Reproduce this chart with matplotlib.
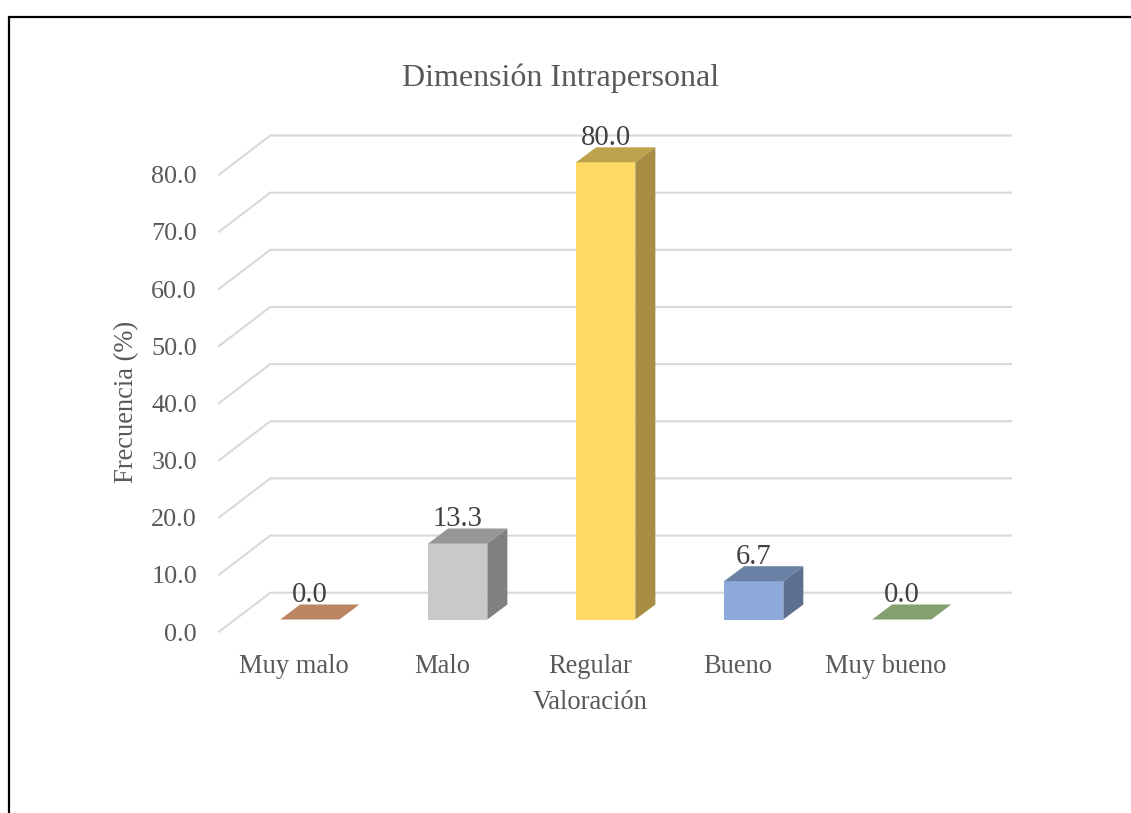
import matplotlib
matplotlib.use("Agg")
import matplotlib.pyplot as plt
from matplotlib.lines import Line2D
from matplotlib.patches import Polygon
from matplotlib.transforms import ScaledTranslation

categories = ["Muy malo", "Malo", "Regular", "Bueno", "Muy bueno"]
values = [0.0, 13.3, 80.0, 6.7, 0.0]
y_ticks = [0, 10, 20, 30, 40, 50, 60, 70, 80]
front_colors = ["#ED9E6B", "#C9C9C9", "#FFD966", "#8EAADB", "#A9D18E"]
top_colors = ["#BC8562", "#979797", "#BFA34C", "#6A80A4", "#83A06E"]
side_colors = ["#A0704F", "#808080", "#A68D42", "#5C6F8E", "#6F8A5C"]

W, H = 1131, 813
plt.rcParams["font.family"] = ["Liberation Serif", "DejaVu Serif"]
fig = plt.figure(figsize=(W / 100, H / 100), dpi=100)

px0, px1 = 235.8, 975.7   # axes left / right in pixels
py0, py80 = 619.5, 162.3  # value 0 / value 80 in pixels
ax = fig.add_axes([px0 / W, 1 - py0 / H, (px1 - px0) / W, (py0 - py80) / H])
ax.set_xlim(-0.5, 4.5)
ax.set_ylim(0, 80)
ax.patch.set_visible(False)
for s in ax.spines.values():
    s.set_visible(False)

ux = (px1 - px0) / 5          # pixels per category
uy = (py0 - py80) / 80        # pixels per value unit
def X(p): return p / ux
def Y(p): return p / uy

# walls
grid_c = "#D9D9D9"
for v in y_ticks:
    xl = -0.5 + X(34.5)
    ax.plot([-0.5 - X(16.7), xl, 4.5 + X(35.3)],
            [v - Y(12.2), v + Y(26.8), v + Y(26.8)],
            color=grid_c, lw=1.5, clip_on=False, zorder=1, solid_joinstyle="miter")

# bars
bw = 59.2 / ux
dx, dy = X(20), Y(15)
xs = list(range(len(categories)))
ax.bar(xs, values, width=bw, color=front_colors, zorder=3)
for x, v, tc, sc in zip(xs, values, top_colors, side_colors):
    l, r = x - bw / 2, x + bw / 2
    ax.add_patch(Polygon([(l, v), (r, v), (r + dx, v + dy), (l + dx, v + dy)],
                         closed=True, fc=tc, ec="none", zorder=3, clip_on=False))
    if v > 0:
        ax.add_patch(Polygon([(r, 0), (r + dx, dy), (r + dx, v + dy), (r, v)],
                             closed=True, fc=sc, ec="none", zorder=3, clip_on=False))
    ax.annotate(f"{v:.1f}", (x, v), xytext=(0, 17.4), textcoords="offset pixels",
                ha="center", va="baseline", fontsize=20.6, color="#404040",
                zorder=5, annotation_clip=False)

# ticks
ax.set_yticks(y_ticks)
ax.set_yticklabels([f"{v:.1f}" for v in y_ticks])
ax.set_xticks(xs)
ax.set_xticklabels(categories)
ax.tick_params(length=0)
ax.tick_params(axis="y", pad=0, labelsize=18.8, labelcolor="#595959")
ax.tick_params(axis="x", pad=0, labelsize=19.1, labelcolor="#595959")
y_off = ScaledTranslation(-38.8 / 100, -21 / 100, fig.dpi_scale_trans)
for lab in ax.get_yticklabels():
    lab.set_transform(lab.get_transform() + y_off)
    lab.set_va("baseline")
x_off = ScaledTranslation(-16 / 100, -53 / 100, fig.dpi_scale_trans)
for lab in ax.get_xticklabels():
    lab.set_transform(lab.get_transform() + x_off)
    lab.set_va("baseline")

fig.text(561 / W, 1 - 78 / H, "Dimensión Intrapersonal", ha="center", va="center",
         fontsize=23, color="#595959")
ax.set_xlabel("Valoración", fontsize=19.1, color="#595959")
ax.xaxis.set_label_coords(590 / W, 1 - 702 / H, transform=fig.transFigure)
ax.xaxis.label.set_va("center")
ax.set_ylabel("Frecuencia (%)", fontsize=19.1, color="#595959")
ax.yaxis.set_label_coords(127 / W, 1 - 402 / H, transform=fig.transFigure)
ax.yaxis.label.set_va("center")

# outer frame, cut by the page edges
fig.add_artist(Line2D([9 / W, 9 / W, 1], [0, 1 - 17 / H, 1 - 17 / H],
                      color="black", lw=1.6, solid_joinstyle="miter"))

fig.savefig("out.png", dpi=100, facecolor="white")
